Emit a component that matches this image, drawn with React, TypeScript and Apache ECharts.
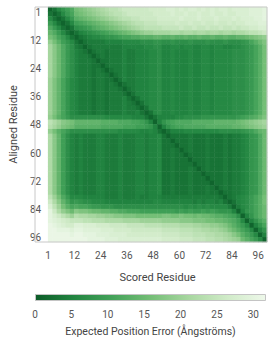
import { useEffect, useRef } from "react";
import * as echarts from "echarts";

// Predicted aligned error, 100 residues read in 2-residue bins (50 x 50).
// One character per cell, base-36 digit = expected position error in Å (0..31).
// Row = aligned residue bin (top to bottom), column = scored residue bin.
const paeRows: string[] = [
  "1368ac" + "ghijklmnoopqqqqqq" + "rrr" + "rssrsrssrsrsrssrss" + "sstttu",
  "31369b" + "fghijklmnoopqqqqq" + "qrr" + "rrsrrsrrsrrsrrsrrs" + "sstttu",
  "631369" + "defghijklmnooppqq" + "qqr" + "rrrrsrrrsrrrsrrrsr" + "sssttu",
  "963136" + "abcdefghijklmnoop" + "ppq" + "qqqrqqrqqrqqrqqrqr" + "rssstt",
  "c96313" + "789acdefghijklmno" + "ooo" + "ppppqppqppqppqppqp" + "qqrrss",
  "ec9631" + "356789abcdefghijk" + "kll" + "llmmlmmlmmlmmlmmlm" + "mnoopq",
  "geb963" + "1345667889abbccdd" + "dee" + "ddeddeddeddeddedde" + "efghij",
  "jgda86" + "31344445555666677" + "788" + "778777877787778777" + "89bdfh",
  "lifc97" + "43134444444555556" + "677" + "556656655665665566" + "789bdg",
  "lifc97" + "54313443444544555" + "667" + "556555655665666677" + "789bdg",
  "lifc97" + "54431343444544555" + "667" + "556555655665666677" + "789bdg",
  "lifc97" + "54443133444544555" + "667" + "556555655665666677" + "789bdg",
  "lifc97" + "54443313444544555" + "667" + "556555655665666677" + "789bdg",
  "lifc97" + "54443431344544555" + "667" + "556555655665666677" + "789bdg",
  "lifc97" + "54443443134544555" + "667" + "556555655665666677" + "789bdg",
  "kheb86" + "54443443313544555" + "667" + "556555655665666677" + "789bdg",
  "kheb86" + "54443443431344555" + "667" + "556555655665666677" + "789bdg",
  "kheb86" + "54443443443134555" + "667" + "556555655665666677" + "789bdg",
  "kheb86" + "54443443444313555" + "667" + "556555655665666677" + "789bdg",
  "kheb86" + "54443443444531355" + "667" + "556555655665666677" + "789bdg",
  "kheb86" + "54443443444543135" + "667" + "556555655665666677" + "789bdg",
  "kheb86" + "54443443444544313" + "667" + "556555655665666677" + "789bdg",
  "kheb86" + "54443443444544531" + "367" + "556555655665666677" + "789bdg",
  "jgdb97" + "77777776666665553" + "135" + "555667777888888889" + "abcdfh",
  "omkihg" + "eeeeeeddddcccbba8" + "515" + "8abccccdddddeeeeef" + "ghijkl",
  "nljhgf" + "ddddddcccccbbbaa9" + "851" + "58abbcccccddddddee" + "fghijk",
  "jgdb97" + "77777777776666655" + "653" + "135556666666677777" + "89acef",
  "miea75" + "45444554445444554" + "556" + "313333433343334344" + "5689cf",
  "miea75" + "45444554445444554" + "556" + "331333433343334344" + "5689cf",
  "miea75" + "45444554445444554" + "556" + "333133433343334344" + "5689cf",
  "miea75" + "45444554445444554" + "556" + "334313433343334344" + "5689cf",
  "miea75" + "45444554445444554" + "556" + "334331333343334344" + "5689cf",
  "miea75" + "45444554445444554" + "556" + "334333133343334344" + "5689cf",
  "miea75" + "45444554445444554" + "556" + "334333313343334344" + "5689cf",
  "miea75" + "45444554445444554" + "556" + "334333431343334344" + "5689cf",
  "miea75" + "45444554445444554" + "556" + "334333433133334344" + "5689cf",
  "miea75" + "45444554445444554" + "556" + "334333433313334344" + "5689cf",
  "miea75" + "45444554445444554" + "556" + "334333433331334344" + "5689cf",
  "miea75" + "45444554445444554" + "556" + "334333433343134344" + "5689cf",
  "miea75" + "45444554445444554" + "556" + "334333433343313344" + "5689cf",
  "okgc96" + "66555554445444544" + "555" + "444444444444431345" + "679bdg",
  "qmieb8" + "98776665555555555" + "566" + "555555545455453135" + "679bdg",
  "sokgdb" + "cbba9988877777777" + "777" + "777776767676666414" + "679bdf",
  "uqmjhf" + "ihhgffeeddccbbbaa" + "aaa" + "aaa9a9a99a9a988851" + "589bdf",
  "usqomk" + "nmmllkkjjiihhhggg" + "ggg" + "hhgghggfgffeddcba7" + "158bdf",
  "utsrqp" + "ppoonnnmmmmllllkk" + "kkk" + "jjjjiiihhhggffedca" + "6158bd",
  "vutsrr" + "ttsssrrrqqqqppppo" + "ooo" + "nnnnmmmllkkjjihfdb" + "96158b",
  "vvuuut" + "uuttttsssrrrrqqqq" + "qqq" + "ppppooonnmmllkjhfd" + "b96158",
  "vvvvvu" + "vvuuutttssssrrrrr" + "rrr" + "qqqqpppooonnmmlkig" + "db9615",
  "vvvvvv" + "vvvuuuutttsssssss" + "sss" + "rrrrqqqpppoonnmlkj" + "fdb961",
];

const residueCount = 100;
const residueTickLabels = ["1", "12", "24", "36", "48", "60", "72", "84", "96"];
const residueTickValues = [0, 12, 24, 36, 48, 60, 72, 84, 96];
const paeMax = 31.75;
const colorbarTicks = [0, 5, 10, 15, 20, 25, 30];
const paeColors = ["#0c5c28", "#228541", "#43a259", "#74be76", "#a8d7a0", "#d0ebc8", "#eef8ea"];

const FONT = "Roboto, 'Noto Sans', sans-serif";

export default function App() {
  const ref = useRef<HTMLDivElement>(null);

  useEffect(() => {
    if (!ref.current) return;
    const chart = echarts.init(ref.current, null, { renderer: "svg" });

    const bins = paeRows.length;
    const binLabels = Array.from({ length: bins }, (_, i) => String(i));
    const cells: number[][] = [];
    paeRows.forEach((row, yi) => {
      for (let xi = 0; xi < row.length; xi++) {
        cells.push([xi, yi, parseInt(row[xi], 36)]);
      }
    });

    const residueLabel = (v: number) => {
      const i = residueTickValues.indexOf(v);
      return i >= 0 ? residueTickLabels[i] : "";
    };

    const grid = { left: 35, top: 7, width: 232, height: 235 };

    const option: any = {
      animation: false,
      textStyle: { fontFamily: FONT },
      grid: [
        { ...grid, show: false },
        { left: 35, top: 294, width: 231, height: 10, show: false },
      ],
      xAxis: [
        { type: "category", gridIndex: 0, data: binLabels, show: false },
        {
          type: "value",
          gridIndex: 0,
          position: "bottom",
          min: 0,
          max: residueCount,
          interval: 12,
          axisLine: { show: false },
          axisTick: { show: false },
          splitLine: { show: false },
          axisLabel: {
            formatter: residueLabel,
            color: "#555",
            fontSize: 10,
            margin: 8,
            fontFamily: FONT,
            showMaxLabel: false,
          },
          name: "Scored Residue",
          nameLocation: "middle",
          nameGap: 30,
          nameTextStyle: { color: "#444", fontSize: 11, fontFamily: FONT },
        },
        {
          type: "value",
          gridIndex: 1,
          min: 0,
          max: paeMax,
          interval: 5,
          axisLine: { show: false },
          axisTick: { show: false },
          splitLine: { show: false },
          axisLabel: {
            color: "#555",
            fontSize: 10,
            margin: 8,
            fontFamily: FONT,
            showMaxLabel: false,
            formatter: (v: number) => (colorbarTicks.includes(v) ? String(v) : ""),
          },
          name: "Expected Position Error (Ångströms)",
          nameLocation: "middle",
          nameGap: 25,
          nameTextStyle: { color: "#444", fontSize: 10.5, fontFamily: FONT },
        },
      ],
      yAxis: [
        { type: "category", gridIndex: 0, data: binLabels, inverse: true, show: false },
        {
          type: "value",
          gridIndex: 0,
          position: "left",
          min: 0,
          max: residueCount,
          interval: 12,
          inverse: true,
          axisLine: { show: false },
          axisTick: { show: false },
          splitLine: { show: false },
          axisLabel: {
            formatter: residueLabel,
            color: "#555",
            fontSize: 10,
            margin: 7,
            verticalAlign: "top",
            fontFamily: FONT,
            showMaxLabel: false,
          },
          name: "Aligned Residue",
          nameLocation: "middle",
          nameGap: 25,
          nameTextStyle: { color: "#444", fontSize: 11, fontFamily: FONT },
        },
        { type: "category", gridIndex: 1, data: ["pae"], show: false },
      ],
      visualMap: {
        type: "continuous",
        show: false,
        min: 0,
        max: paeMax,
        seriesIndex: 0,
        inRange: { color: paeColors },
      },
      series: [
        {
          type: "heatmap",
          xAxisIndex: 0,
          yAxisIndex: 0,
          data: cells,
          itemStyle: { borderWidth: 0 },
          emphasis: { disabled: true },
        },
        {
          type: "bar",
          xAxisIndex: 2,
          yAxisIndex: 2,
          data: [paeMax],
          barWidth: "100%",
          silent: true,
          itemStyle: {
            borderColor: "#c4c4c4",
            borderWidth: 1,
            color: new echarts.graphic.LinearGradient(
              0, 0, 1, 0,
              paeColors.map((c, i) => ({ offset: i / (paeColors.length - 1), color: c }))
            ),
          },
        },
      ],
      graphic: [
        {
          type: "rect",
          z: 100,
          silent: true,
          shape: { x: grid.left, y: grid.top, width: grid.width, height: grid.height },
          style: { fill: "none", stroke: "#c8c8c8", lineWidth: 1 },
        },
      ],
    };

    chart.setOption(option);
    return () => chart.dispose();
  }, []);

  return (
    <div
      ref={ref}
      style={{ position: "absolute", left: 0, top: 0, width: 274, height: 338, background: "#fff" }}
    />
  );
}
